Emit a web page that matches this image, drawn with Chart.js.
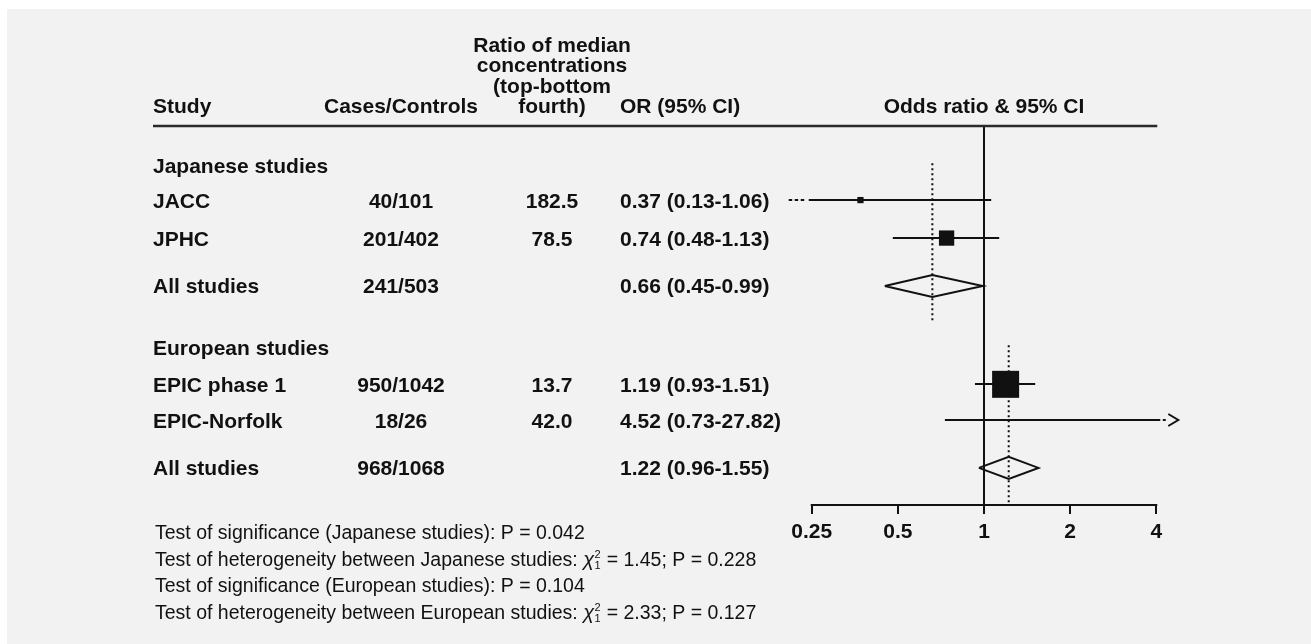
<!DOCTYPE html>
<html>
<head>
<meta charset="utf-8">
<script src="https://cdn.jsdelivr.net/npm/chart.js@4.4.1/dist/chart.umd.min.js"></script>
<style>
html,body{margin:0;padding:0;background:#fff;overflow:hidden}
canvas{display:block}
</style>
</head>
<body>
<canvas id="c" width="1311" height="644"></canvas>
<script>
// ---------------- data ----------------
const groupNames = ['Japanese studies', 'European studies'];
const studyNames = ['JACC', 'JPHC', 'EPIC phase 1', 'EPIC-Norfolk'];
const casesControls = ['40/101', '201/402', '950/1042', '18/26'];
const ratioMedian = ['182.5', '78.5', '13.7', '42.0'];
const studyOR = [0.37, 0.74, 1.19, 4.52];
const studyLo = [0.13, 0.48, 0.93, 0.73];
const studyHi = [1.06, 1.13, 1.51, 27.82];
const summaryLabels = ['All studies', 'All studies'];
const summaryCases = ['241/503', '968/1068'];
const summaryOR = [0.66, 1.22];
const summaryLo = [0.45, 0.96];
const summaryHi = [0.99, 1.55];
const tickValues = [0.25, 0.5, 1, 2, 4];
const tickLabels = ['0.25', '0.5', '1', '2', '4'];
// row order (row units from the top study row)
const groupRow = [-0.92, 3.87];
const studyRow = [0, 1, 4.85, 5.8];
const summaryRow = [2.26, 7.05];
const headerCols = ['Study', 'Cases/Controls', 'OR (95% CI)', 'Odds ratio & 95% CI'];
const ratioHeader = ['Ratio of median', 'concentrations', '(top-bottom', 'fourth)'];
const footnotes = [
  { pre: 'Test of significance (Japanese studies): P = 0.042' },
  { pre: 'Test of heterogeneity between Japanese studies: ', chi: ['2', '1'], post: ' = 1.45; P = 0.228' },
  { pre: 'Test of significance (European studies): P = 0.104' },
  { pre: 'Test of heterogeneity between European studies: ', chi: ['2', '1'], post: ' = 2.33; P = 0.127' }
];

// ---------------- style / layout ----------------
const INK = '#111111';
const FONT = '"Liberation Sans", Arial, Helvetica, sans-serif';
const BOLD = 'bold 21px ' + FONT;
const Y_MIN = -1.95, Y_MAX = 8.0;
const COL_STUDY = 153, COL_CASES = 401, COL_RATIO = 552, COL_OR = 620;

function fmtOR(v, lo, hi) {
  return v.toFixed(2) + ' (' + lo.toFixed(2) + '-' + hi.toFixed(2) + ')';
}
// box side proportional to sqrt(inverse-variance weight)
const weights = studyLo.map((lo, i) => {
  const se = (Math.log(studyHi[i]) - Math.log(lo)) / (2 * 1.96);
  return 1 / (se * se);
});
const axMin = tickValues[0], axMax = tickValues[tickValues.length - 1];
const boxRadius = weights.map((w, i) => {
  if (studyOR[i] > axMax || studyOR[i] < axMin) return 0;
  const side = 3.34 * Math.sqrt(w);
  return side / Math.SQRT2;
});

const datasets = [];
// study boxes (drawn on top)
datasets.push({
  data: studyOR.map((v, i) => ({ x: v, y: studyRow[i] })),
  pointStyle: 'rect',
  pointRadius: boxRadius,
  backgroundColor: INK,
  borderColor: INK,
  borderWidth: 0,
  showLine: false
});
// summary diamonds
summaryOR.forEach((v, g) => {
  const h = 0.29;
  datasets.push({
    data: [
      { x: summaryLo[g], y: summaryRow[g] },
      { x: v, y: summaryRow[g] - h },
      { x: summaryHi[g], y: summaryRow[g] },
      { x: v, y: summaryRow[g] + h },
      { x: summaryLo[g], y: summaryRow[g] }
    ],
    showLine: true, fill: false, borderColor: INK, borderWidth: 2,
    pointRadius: 0, tension: 0, borderJoinStyle: 'miter'
  });
});
// summary dotted verticals
summaryOR.forEach((v, g) => {
  datasets.push({
    data: [{ x: v, y: groupRow[g] - 0.05 }, { x: v, y: summaryRow[g] + 0.93 }],
    showLine: true, borderColor: INK, borderWidth: 2, borderDash: [2, 3],
    pointRadius: 0
  });
});
// null line
datasets.push({
  data: [{ x: 1, y: Y_MIN }, { x: 1, y: Y_MAX }],
  showLine: true, borderColor: INK, borderWidth: 2, pointRadius: 0
});

const forestPlugin = {
  id: 'forest',
  beforeDraw(chart) {
    const ctx = chart.ctx;
    ctx.save();
    ctx.fillStyle = '#ffffff';
    ctx.fillRect(0, 0, chart.width, chart.height);
    ctx.fillStyle = '#f2f2f2';
    ctx.fillRect(7, 9, chart.width - 7, chart.height - 9);
    ctx.restore();
  },
  beforeDatasetsDraw(chart) {
    const ctx = chart.ctx, xs = chart.scales.x, ys = chart.scales.y;
    ctx.save();
    ctx.strokeStyle = INK;
    ctx.lineWidth = 2;
    studyOR.forEach((v, i) => {
      const y = Math.round(ys.getPixelForValue(studyRow[i]));
      const lo = studyLo[i], hi = studyHi[i];
      const xl = lo < axMin ? xs.getPixelForValue(axMin) - 3 : xs.getPixelForValue(lo);
      const xr = hi > axMax ? xs.getPixelForValue(axMax) + 4 : xs.getPixelForValue(hi);
      ctx.setLineDash([]);
      ctx.beginPath(); ctx.moveTo(xl, y); ctx.lineTo(xr, y); ctx.stroke();
      if (lo < axMin) {
        ctx.setLineDash([3.5, 2.5]);
        ctx.beginPath(); ctx.moveTo(xl - 20, y); ctx.lineTo(xl - 3, y); ctx.stroke();
      }
      if (hi > axMax) {
        ctx.setLineDash([]);
        ctx.beginPath(); ctx.moveTo(xr + 2.5, y); ctx.lineTo(xr + 5.5, y); ctx.stroke();
        const tip = xr + 18;
        ctx.beginPath();
        ctx.moveTo(tip - 10, y - 6); ctx.lineTo(tip, y); ctx.lineTo(tip - 10, y + 6);
        ctx.stroke();
      }
    });
    ctx.restore();
  },
  afterDraw(chart) {
    const ctx = chart.ctx, xs = chart.scales.x, ys = chart.scales.y;
    const top = chart.chartArea.top, bottom = chart.chartArea.bottom;
    ctx.save();
    // header rule
    ctx.strokeStyle = '#2a2a2a';
    ctx.lineWidth = 2.5;
    ctx.beginPath();
    ctx.moveTo(COL_STUDY, top); ctx.lineTo(xs.getPixelForValue(axMax) + 1, top);
    ctx.stroke();
    // x axis line between first and last tick
    ctx.strokeStyle = INK;
    ctx.lineWidth = 2;
    ctx.beginPath();
    ctx.moveTo(xs.getPixelForValue(axMin) - 1, bottom + 1);
    ctx.lineTo(xs.getPixelForValue(axMax) + 1, bottom + 1);
    ctx.stroke();

    // header texts
    ctx.fillStyle = INK;
    ctx.font = BOLD;
    ctx.textBaseline = 'alphabetic';
    const hb = top - 13;
    ctx.textAlign = 'left'; ctx.fillText(headerCols[0], COL_STUDY, hb);
    ctx.textAlign = 'center'; ctx.fillText(headerCols[1], COL_CASES, hb);
    ratioHeader.forEach((t, k) => {
      ctx.fillText(t, COL_RATIO, hb - (ratioHeader.length - 1 - k) * 20.5);
    });
    ctx.textAlign = 'left'; ctx.fillText(headerCols[2], COL_OR, hb);
    ctx.textAlign = 'center'; ctx.fillText(headerCols[3], xs.getPixelForValue(1), hb);

    const base = r => ys.getPixelForValue(r) + 7.5;
    // group headings
    ctx.textAlign = 'left';
    groupNames.forEach((g, k) => ctx.fillText(g, COL_STUDY, base(groupRow[k])));
    // studies
    studyNames.forEach((s, i) => {
      const b = base(studyRow[i]);
      ctx.textAlign = 'left'; ctx.fillText(s, COL_STUDY, b);
      ctx.textAlign = 'center'; ctx.fillText(casesControls[i], COL_CASES, b);
      ctx.fillText(ratioMedian[i], COL_RATIO, b);
      ctx.textAlign = 'left'; ctx.fillText(fmtOR(studyOR[i], studyLo[i], studyHi[i]), COL_OR, b);
    });
    // summaries
    summaryLabels.forEach((s, g) => {
      const b = base(summaryRow[g]);
      ctx.textAlign = 'left'; ctx.fillText(s, COL_STUDY, b);
      ctx.textAlign = 'center'; ctx.fillText(summaryCases[g], COL_CASES, b);
      ctx.textAlign = 'left'; ctx.fillText(fmtOR(summaryOR[g], summaryLo[g], summaryHi[g]), COL_OR, b);
    });

    // footnotes
    const REG = '19.5px ' + FONT;
    footnotes.forEach((f, k) => {
      const b = bottom + 35 + k * 26.5;
      let x = 155;
      ctx.textAlign = 'left';
      ctx.font = REG;
      ctx.fillText(f.pre, x, b);
      x += ctx.measureText(f.pre).width;
      if (f.chi) {
        ctx.font = 'italic 20px ' + FONT;
        ctx.fillText('\u03C7', x, b);
        x += ctx.measureText('\u03C7').width;
        ctx.font = '11px ' + FONT;
        ctx.fillText(f.chi[0], x + 0.5, b - 8);
        ctx.fillText(f.chi[1], x + 0.5, b + 3);
        x += ctx.measureText(f.chi[0]).width + 1;
        ctx.font = REG;
        ctx.fillText(f.post, x, b);
      }
    });
    ctx.restore();
  }
};

new Chart(document.getElementById('c'), {
  type: 'scatter',
  data: { datasets },
  plugins: [forestPlugin],
  options: {
    responsive: false,
    animation: false,
    devicePixelRatio: 1,
    layout: { padding: { left: 784, right: 127, top: 126, bottom: 80 } },
    plugins: { legend: { display: false }, tooltip: { enabled: false } },
    scales: {
      x: {
        type: 'logarithmic',
        min: 0.2, max: 5,
        afterBuildTicks(scale) { scale.ticks = tickValues.map(v => ({ value: v })); },
        afterFit(scale) { scale.height = 60; },
        ticks: {
          autoSkip: false, maxRotation: 0, padding: 6, color: INK,
          font: { family: FONT, size: 21, weight: 'bold' },
          callback: (v, i) => tickLabels[i]
        },
        grid: { display: true, drawOnChartArea: false, drawTicks: true, tickLength: 10, color: INK, lineWidth: 2 },
        border: { display: false }
      },
      y: { type: 'linear', reverse: true, min: Y_MIN, max: Y_MAX, display: false }
    }
  }
});
</script>
</body>
</html>
